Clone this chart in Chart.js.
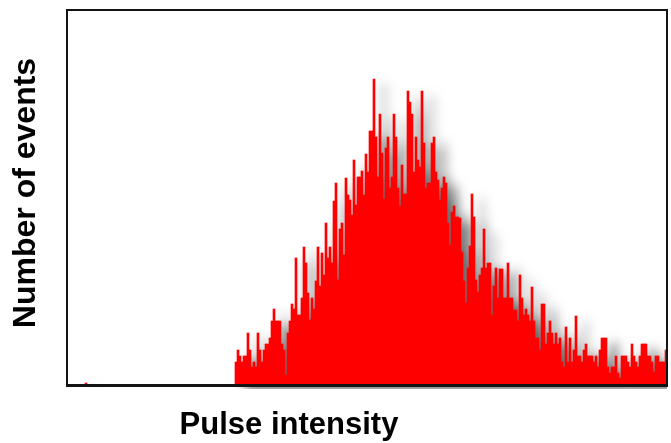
<!DOCTYPE html>
<html>
<head>
<meta charset="utf-8">
<title>Pulse intensity histogram</title>
<script src="https://cdn.jsdelivr.net/npm/chart.js@4/dist/chart.umd.min.js"></script>
<style>
  html, body { margin: 0; padding: 0; background: #fff; }
  #wrap { width: 671px; height: 443px; }
</style>
</head>
<body>
<div id="wrap"><canvas id="histo" width="671" height="443"></canvas></div>
<script>
// ========== Data ==========
const binCount = 300;          // intensity bins across the x axis
const strayBin = 9;            // single low-intensity event
const strayCount = 2;
const firstBin = 84;           // first bin of the main distribution
const counts = [
  23, 35, 29, 23, 29, 29, 52, 35, 18, 23, 18, 52, 35, 23, 35, 41, 41, 47, 64, 76,
  64, 64, 64, 41, 35, 10, 52, 64, 81, 76, 127, 70, 70, 87, 138, 122, 92, 65, 87, 76,
  104, 138, 99, 132, 110, 162, 127, 138, 122, 184, 202, 105, 156, 162, 130, 207, 190, 185, 170, 225,
  180, 208, 208, 214, 190, 231, 213, 254, 254, 306, 248, 208, 271, 232, 186, 237, 248, 197, 208, 271,
  248, 197, 179, 220, 191, 191, 294, 283, 271, 213, 248, 225, 218, 294, 242, 197, 202, 202, 242, 248,
  213, 205, 185, 197, 208, 202, 162, 140, 173, 179, 168, 168, 167, 133, 104, 82, 117, 139, 191, 168,
  105, 93, 110, 117, 156, 117, 122, 122, 70, 99, 117, 87, 116, 116, 87, 87, 122, 87, 87, 75,
  75, 64, 110, 87, 70, 76, 70, 64, 98, 64, 47, 47, 35, 81, 81, 41, 52, 64, 52, 41,
  52, 41, 47, 23, 18, 58, 23, 47, 23, 35, 69, 29, 29, 23, 35, 41, 29, 29, 29, 23,
  29, 18, 35, 47, 47, 47, 18, 12, 18, 18, 29, 12, 7, 29, 29, 29, 23, 18, 41, 29,
  23, 18, 29, 41, 41, 41, 29, 29, 23, 13, 29, 29, 23, 23, 23, 35
];
const yMax = 375;
const xTitle = "Pulse intensity";
const yTitle = "Number of events";

// build the full histogram row from the pieces above
const labels = Array.from({ length: binCount }, (_, i) => i);
const values = new Array(binCount).fill(0);
values[strayBin] = strayCount;
counts.forEach((c, i) => { values[firstBin + i] = c; });

// ========== Plugins ==========
// soft grey drop shadow under the whole bar silhouette
const barShadow = {
  id: "barShadow",
  beforeDatasetsDraw(chart) {
    const { ctx, chartArea: a } = chart;
    const bars = chart.getDatasetMeta(0).data;
    ctx.save();
    ctx.beginPath();
    ctx.rect(a.left, a.top, a.right - a.left, a.bottom - a.top + 4);
    ctx.clip();
    ctx.shadowColor = "rgba(0,0,0,0.6)";
    ctx.shadowBlur = 12;
    ctx.shadowOffsetX = 10;
    ctx.shadowOffsetY = 5;
    ctx.fillStyle = "#ff0000";
    ctx.beginPath();
    bars.forEach((b) => {
      const p = b.getProps(["x", "y", "base", "width"], true);
      if (p.base - p.y > 0) ctx.rect(p.x - p.width / 2, p.y, p.width, p.base - p.y);
    });
    ctx.fill();
    ctx.restore();
  },
};

// black box around the plot + the two axis titles
const frameAndTitles = {
  id: "frameAndTitles",
  afterDraw(chart) {
    const { ctx, chartArea: a } = chart;
    ctx.save();
    ctx.strokeStyle = "#141414";
    ctx.lineWidth = 2;
    ctx.strokeRect(a.left, a.top, a.right - a.left, a.bottom - a.top);
    ctx.lineWidth = 3;
    ctx.beginPath();
    ctx.moveTo(a.left - 1, a.bottom + 0.5);
    ctx.lineTo(a.right + 1, a.bottom + 0.5);
    ctx.stroke();

    ctx.fillStyle = "#000";
    ctx.font = "bold 31px 'Liberation Sans', Arial, sans-serif";
    ctx.textAlign = "center";
    ctx.textBaseline = "middle";
    ctx.fillText(xTitle, 289, 425);

    ctx.font = "bold 32px 'Liberation Sans', Arial, sans-serif";
    ctx.translate(26, 193);
    ctx.rotate(-Math.PI / 2);
    ctx.fillText(yTitle, 0, 0);
    ctx.restore();
  },
};

// ========== Chart ==========
new Chart(document.getElementById("histo").getContext("2d"), {
  type: "bar",
  data: {
    labels: labels,
    datasets: [{
      data: values,
      backgroundColor: "#ff0000",
      borderWidth: 0,
      barPercentage: 1,
      categoryPercentage: 1,
    }],
  },
  options: {
    responsive: false,
    animation: false,
    devicePixelRatio: 1,
    layout: { padding: { left: 67, top: 10, right: 4, bottom: 58 } },
    plugins: { legend: { display: false }, tooltip: { enabled: false } },
    scales: {
      x: { display: false },
      y: { display: false, min: 0, max: yMax },
    },
  },
  plugins: [barShadow, frameAndTitles],
});
</script>
</body>
</html>
